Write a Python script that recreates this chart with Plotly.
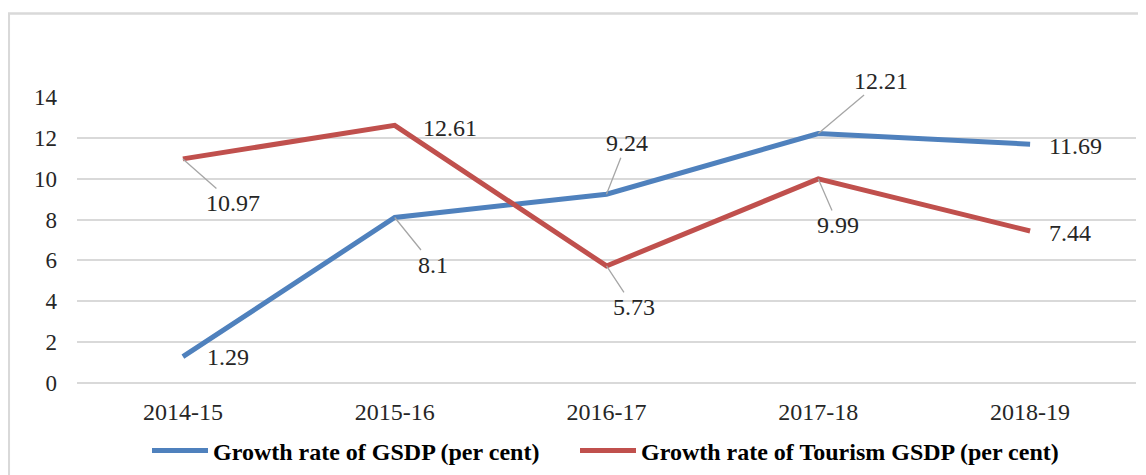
import plotly.graph_objects as go

years = ["2014-15", "2015-16", "2016-17", "2017-18", "2018-19"]
gsdp = [1.29, 8.1, 9.24, 12.21, 11.69]
tourism = [10.97, 12.61, 5.73, 9.99, 7.44]
y_ticks = [0, 2, 4, 6, 8, 10, 12, 14]

BLUE = "#4F81BD"
RED = "#C0504D"
GRID = "#d9d9d9"
FONT = "Liberation Serif, Times New Roman, serif"
TXT = "#262626"

fig = go.Figure()
fig.add_trace(go.Scatter(x=years, y=gsdp, mode="lines", name="Growth rate of GSDP (per cent)",
                         line=dict(color=BLUE, width=5), legend="legend"))
fig.add_trace(go.Scatter(x=years, y=tourism, mode="lines", name="Growth rate of Tourism GSDP (per cent)",
                         line=dict(color=RED, width=5), legend="legend2"))

# label offsets (pixels): (dx, dy, leader)
gsdp_off = [(45, 0, False), (38, 47, True), (20, -51, True), (63, -53, True), (45, 2, False)]
tour_off = [(50, 44, True), (55, 3, False), (27, 41, True), (20, 46, True), (40, 2, False)]

def add_labels(vals, offs):
    for xi, v, (dx, dy, lead) in zip(years, vals, offs):
        if lead:
            fig.add_annotation(x=xi, y=v, xref="x", yref="y", text=str(v), showarrow=True,
                               ax=dx, ay=dy, arrowhead=0, arrowwidth=1.3, arrowcolor="#a6a6a6",
                               standoff=0, font=dict(family=FONT, size=24, color=TXT))
        else:
            fig.add_annotation(x=xi, y=v, xref="x", yref="y", text=str(v), showarrow=False,
                               xshift=dx, yshift=-dy, font=dict(family=FONT, size=24, color=TXT))

add_labels(gsdp, gsdp_off)
add_labels(tourism, tour_off)

# outer chart border (partially cropped like the reference)
L, T, PW, PH = 69, 89, 1059, 286
fig.add_shape(type="rect", xref="paper", yref="paper",
              x0=(0.8 - L) / PW, x1=1.3, y0=-0.6, y1=(T + PH - 5.5) / PH,
              line=dict(color=GRID, width=2.5), fillcolor="rgba(0,0,0,0)", layer="below")

leg_common = dict(orientation="h", xanchor="left", y=-68 / PH, yanchor="middle",
                  font=dict(family=FONT, size=24, color="#000", weight="bold"),
                  itemwidth=56, bgcolor="rgba(0,0,0,0)")

fig.update_layout(
    width=1146, height=475,
    margin=dict(l=L, r=1146 - L - PW, t=T, b=475 - T - PH, autoexpand=False),
    paper_bgcolor="white", plot_bgcolor="white",
    showlegend=True,
    legend=dict(x=(139 - L) / PW, **leg_common),
    legend2=dict(x=(567 - L) / PW, **leg_common),
    font=dict(family=FONT, size=22, color=TXT),
)
fig.update_xaxes(range=[-0.5, 4.5], showgrid=False, showline=False, ticks="",
                 ticklabelstandoff=12, tickfont=dict(family=FONT, size=24, color=TXT))
fig.update_yaxes(range=[0, 14], tickvals=y_ticks, showgrid=True, gridcolor=GRID, gridwidth=2,
                 zeroline=True, zerolinecolor=GRID, zerolinewidth=2, showline=False, ticks="",
                 ticklabelstandoff=19, tickfont=dict(family=FONT, size=23, color=TXT))

fig.write_html("out.html")
